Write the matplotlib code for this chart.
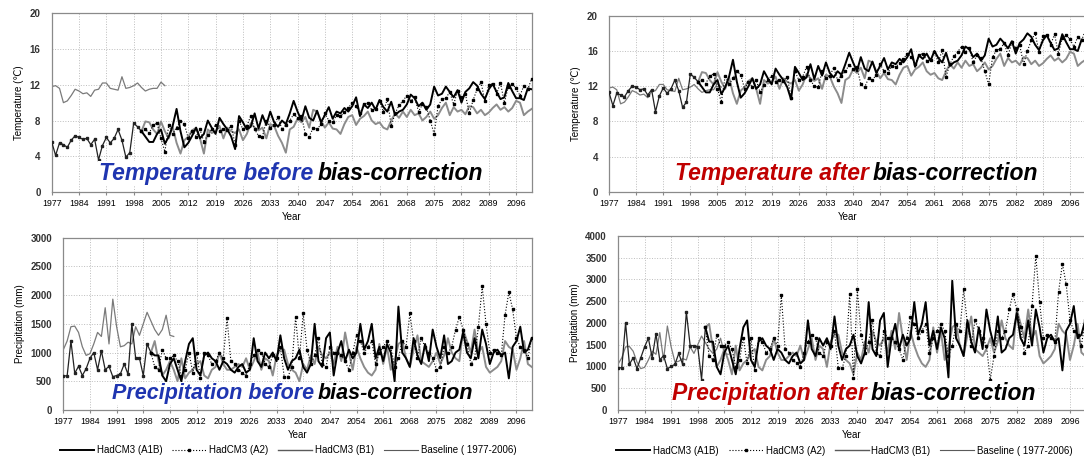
import matplotlib
matplotlib.use('Agg')
import matplotlib.pyplot as plt
from matplotlib.lines import Line2D

plt.rcParams['font.family'] = ['Liberation Sans', 'DejaVu Sans']

years = list(range(1977, 2101))
hist_years = list(range(1977, 2001))
scen_years = list(range(2000, 2101))
base_years = list(range(1977, 2007))
tick_years = list(range(1977, 2100, 7))

# observed baseline 1977-2006 (same in before/after panels)
base_temp = [11.8, 11.9, 11.6, 10.0, 10.2, 10.8, 11.5, 11.3, 11.0, 11.1,
             10.7, 11.4, 11.5, 12.2, 12.2, 11.6, 11.5, 11.4, 12.9, 11.6,
             11.7, 11.9, 12.2, 11.7, 11.3, 11.5, 11.6, 11.6, 12.3, 11.9]
base_prec = [1050, 1200, 1450, 1460, 1350, 1100, 950, 980, 1150, 1350,
             1280, 1780, 1150, 1930, 1450, 1100, 1120, 1180, 1150, 1450,
             1300, 1500, 1700, 1550, 1400, 1300, 1400, 1650, 1300, 1280]

# ---- temperature before bias-correction ----
hist_tb = [5.6, 4.1, 5.5, 5.3, 5.0, 5.8, 6.3, 6.1, 5.9, 6.0,
           5.3, 5.9, 3.6, 5.2, 6.1, 5.5, 6.0, 7.0, 5.8, 3.9,
           4.4, 7.7, 7.3, 6.8]
a1b_tb = [6.2, 5.6, 5.6, 6.5, 7.0, 5.4, 6.2, 7.4, 9.3, 6.8,
          5.0, 5.5, 6.3, 7.2, 6.0, 6.5, 8.0, 7.2, 6.5, 8.3,
          7.6, 7.0, 6.2, 4.8, 8.5, 7.8, 7.0, 7.3, 8.8, 7.1,
          8.6, 7.5, 9.0, 7.8, 7.3, 8.0, 7.6, 8.8, 10.2, 9.0,
          8.0, 9.6, 8.3, 8.0, 9.1, 7.8, 8.6, 9.5, 8.2, 9.0,
          8.8, 9.4, 9.0, 9.6, 10.6, 8.5, 9.8, 9.4, 10.0, 9.2,
          10.3, 9.5, 9.0, 10.1, 8.6, 9.0, 9.2, 9.8, 10.9, 10.5,
          9.6, 10.0, 9.2, 9.8, 11.8, 10.8, 11.0, 11.8, 11.2, 10.6,
          11.4, 10.0, 11.2, 11.6, 12.3, 11.9, 11.0, 10.4, 11.5, 12.1,
          11.2, 10.4, 10.6, 12.2, 11.3, 10.5, 10.5, 10.3, 11.6, 11.5]
a2_tb = [7.0, 6.6, 7.5, 7.7, 6.0, 4.5, 7.5, 6.5, 7.2, 8.0,
         7.6, 6.0, 6.8, 6.2, 7.0, 5.6, 6.4, 7.0, 7.5, 6.8,
         7.0, 6.9, 7.4, 5.3, 8.0, 7.0, 7.4, 8.5, 7.0, 6.3,
         6.2, 8.0, 7.2, 7.5, 8.4, 7.0, 7.5, 8.0, 8.7, 8.3,
         8.5, 6.5, 6.2, 7.2, 7.0, 7.6, 8.8, 8.0, 7.8, 8.6,
         8.5, 8.9, 9.4, 10.0, 9.6, 8.8, 9.8, 10.0, 9.2, 9.3,
         10.2, 9.0, 10.4, 7.4, 8.8, 9.7, 10.2, 10.8, 10.2, 10.6,
         9.0, 9.8, 9.5, 8.0, 6.5, 9.6, 10.4, 10.5, 11.2, 9.8,
         11.3, 10.6, 11.0, 8.8, 10.3, 11.5, 12.3, 10.2, 12.0, 12.1,
         11.0, 12.2, 10.0, 11.8, 12.1, 11.6, 10.8, 11.9, 11.5, 12.7]
b1_tb = [7.9, 7.8, 7.0, 6.5, 7.9, 6.8, 6.0, 7.3, 5.5, 4.3,
         5.8, 6.2, 6.9, 7.2, 6.0, 4.3, 7.0, 6.6, 6.8, 7.4,
         6.0, 7.2, 6.8, 6.6, 7.0, 5.8, 6.5, 7.7, 7.2, 6.9,
         7.2, 6.0, 7.6, 7.4, 6.3, 5.5, 4.4, 7.0, 7.3, 8.2,
         7.8, 8.4, 7.2, 9.2, 9.0, 8.0, 7.2, 7.8, 7.1, 7.0,
         6.5, 7.6, 8.4, 8.6, 7.5, 8.2, 8.5, 9.0, 8.0, 7.6,
         7.8, 7.2, 7.0, 8.0, 8.8, 8.3, 9.0, 8.4, 9.2, 8.6,
         8.8, 8.0, 8.4, 9.0, 8.2, 8.6, 9.4, 10.0, 8.6, 9.5,
         9.0, 9.2, 8.7, 9.6, 9.5, 8.8, 9.2, 8.6, 8.9, 9.4,
         9.8, 9.2, 9.5, 9.0, 9.4, 10.2, 10.0, 8.6, 9.0, 9.3]

# ---- temperature after bias-correction ----
hist_ta = [11.3, 9.8, 11.2, 11.0, 10.8, 11.5, 12.0, 11.9, 11.6, 11.7,
           11.0, 11.6, 9.1, 10.9, 11.8, 11.2, 11.7, 12.7, 11.5, 9.6,
           10.2, 13.4, 13.0, 12.5]
a1b_ta = [11.9, 11.3, 11.3, 12.2, 12.7, 11.1, 11.9, 13.1, 15.0, 12.5,
          10.7, 11.2, 12.0, 12.9, 11.7, 12.2, 13.7, 12.9, 12.2, 14.0,
          13.3, 12.7, 11.9, 10.5, 14.2, 13.5, 12.7, 13.0, 14.5, 12.8,
          14.3, 13.2, 14.7, 13.5, 13.0, 13.7, 13.3, 14.5, 15.8, 14.7,
          13.7, 15.3, 14.0, 13.7, 14.8, 13.5, 14.3, 15.2, 13.9, 14.7,
          14.5, 15.1, 14.7, 15.3, 16.2, 14.2, 15.5, 15.1, 15.7, 14.9,
          16.0, 15.2, 14.7, 15.8, 14.3, 14.7, 14.9, 15.5, 16.5, 16.2,
          15.3, 15.7, 14.9, 15.5, 17.4, 16.5, 16.7, 17.4, 16.9, 16.3,
          17.1, 15.7, 16.9, 17.3, 18.0, 17.6, 16.7, 16.1, 17.2, 17.8,
          16.9, 16.1, 16.3, 17.9, 17.0, 16.2, 16.2, 16.0, 17.3, 17.2]
a2_ta = [12.7, 12.3, 13.2, 13.4, 11.7, 10.2, 13.2, 12.2, 12.9, 13.7,
         13.3, 11.7, 12.5, 11.9, 12.7, 11.3, 12.1, 12.7, 13.2, 12.5,
         12.7, 12.6, 13.1, 10.7, 13.7, 12.7, 13.1, 14.2, 12.7, 12.0,
         11.9, 13.7, 12.9, 13.2, 14.1, 12.7, 13.2, 13.7, 14.4, 14.0,
         14.2, 12.2, 11.9, 12.9, 12.7, 13.3, 14.5, 13.7, 13.5, 14.3,
         14.2, 14.6, 15.1, 15.7, 15.3, 14.5, 15.5, 15.7, 14.9, 15.0,
         15.9, 14.7, 16.1, 13.1, 14.5, 15.4, 15.9, 16.5, 15.9, 16.3,
         14.7, 15.5, 15.2, 13.7, 12.2, 15.3, 16.1, 16.2, 16.9, 15.5,
         17.0, 16.3, 16.7, 14.5, 16.0, 17.2, 18.0, 15.9, 17.7, 17.8,
         16.7, 17.9, 15.7, 17.5, 17.8, 17.3, 16.5, 17.6, 17.2, 18.4]
b1_ta = [13.6, 13.5, 12.7, 12.2, 13.6, 12.5, 11.7, 13.0, 11.2, 10.0,
         11.5, 11.9, 12.6, 12.9, 11.7, 10.0, 12.7, 12.3, 12.5, 13.1,
         11.7, 12.9, 12.5, 12.3, 12.7, 11.5, 12.2, 13.4, 12.9, 12.6,
         12.9, 11.7, 13.3, 13.1, 12.0, 11.2, 10.1, 12.7, 13.0, 13.9,
         13.5, 14.1, 12.9, 14.9, 14.7, 13.7, 12.9, 13.5, 12.8, 12.7,
         12.2, 13.3, 14.1, 14.3, 13.2, 13.9, 14.2, 14.7, 13.7, 13.3,
         13.5, 12.9, 12.7, 13.7, 14.5, 14.0, 14.7, 14.1, 14.9, 14.3,
         14.5, 13.7, 14.1, 14.7, 13.9, 14.3, 15.1, 15.7, 14.3, 15.2,
         14.7, 14.9, 14.4, 15.3, 15.2, 14.5, 14.9, 14.3, 14.6, 15.1,
         15.5, 14.9, 15.2, 14.7, 15.1, 15.9, 15.7, 14.3, 14.7, 15.0]

# ---- precipitation before bias-correction ----
hist_pb = [600, 590, 1200, 640, 760, 600, 720, 900, 1000, 700,
           1030, 700, 760, 580, 600, 630, 800, 620, 1500, 900,
           900, 600, 1150, 1000]
a1b_pb = [950, 950, 600, 500, 800, 900, 700, 500, 850, 1150,
          1250, 700, 600, 950, 1000, 900, 850, 700, 850, 800,
          700, 650, 750, 800, 650, 700, 1250, 850, 750, 1000,
          900, 1000, 850, 1300, 900, 700, 850, 900, 1050, 750,
          650, 800, 1500, 850, 750, 1250, 1350, 600, 1000, 1200,
          850, 1050, 900, 1000, 1500, 1050, 1200, 1500, 900, 1100,
          850, 1150, 1000, 500, 1800, 1000, 900, 750, 1250, 950,
          800, 1150, 850, 1400, 1100, 900, 1300, 800, 850, 1000,
          1050, 1350, 1000, 900, 1250, 900, 1400, 1150, 800, 1000,
          1050, 950, 1000, 550, 1100, 1200, 1450, 1000, 1050, 1250]
a2_pb = [750, 700, 1050, 900, 900, 950, 850, 600, 700, 1000,
         650, 1000, 550, 1000, 950, 800, 850, 1000, 900, 1600,
         850, 800, 700, 650, 600, 800, 950, 1050, 1000, 800,
         750, 950, 900, 1100, 580, 580, 750, 1620, 900, 1680,
         1050, 800, 950, 1250, 800, 750, 1100, 1000, 1000, 950,
         850, 700, 1000, 1300, 1200, 1000, 1100, 1200, 800, 1000,
         1100, 1200, 1100, 750, 900, 1200, 1100, 1680, 1200, 900,
         1250, 1100, 1000, 900, 700, 750, 1100, 1000, 1100, 1400,
         1620, 1400, 1150, 800, 900, 1450, 2150, 1500, 1000, 1050,
         1000, 950, 1650, 2050, 1750, 1250, 1100, 1050, 900, 1250]
b1_pb = [1200, 850, 600, 700, 850, 700, 500, 900, 550, 650,
         700, 800, 850, 600, 550, 700, 750, 1000, 800, 700,
         700, 750, 800, 750, 900, 700, 850, 1000, 700, 900,
         850, 600, 950, 1050, 1050, 800, 700, 650, 500, 800,
         700, 950, 800, 1100, 950, 900, 1000, 800, 1100, 850,
         1350, 1000, 700, 1100, 900, 750, 650, 600, 700, 1150,
         800, 1100, 700, 850, 1150, 1200, 900, 750, 1050, 1300,
         850, 800, 750, 850, 1000, 800, 950, 1250, 1000, 900,
         850, 1400, 1200, 1000, 1400, 1000, 1100, 750, 650, 700,
         750, 850, 1200, 1100, 1050, 700, 900, 1200, 800, 750]

# ---- precipitation after bias-correction ----
hist_pa = [970, 970, 2000, 1050, 1200, 950, 1200, 1450, 1650, 1200,
           1750, 1150, 1250, 950, 1000, 1050, 1300, 1050, 2250, 1480,
           1480, 1450, 700, 1900]
a1b_pa = [1570, 1570, 990, 820, 1320, 1480, 1150, 820, 1400, 1900,
          2060, 1150, 990, 1570, 1650, 1480, 1400, 1150, 1400, 1320,
          1150, 1070, 1240, 1320, 1070, 1150, 2060, 1400, 1240, 1650,
          1480, 1650, 1400, 2150, 1480, 1150, 1400, 1480, 1730, 1240,
          1070, 1320, 2480, 1400, 1240, 2060, 2230, 990, 1650, 1980,
          1400, 1730, 1480, 1650, 2480, 1730, 1980, 2480, 1480, 1820,
          1400, 1900, 1650, 750, 2970, 1650, 1480, 1240, 2060, 1570,
          1320, 1900, 1400, 2310, 1820, 1480, 2150, 1320, 1400, 1650,
          1730, 2230, 1650, 1480, 2060, 1480, 2310, 1900, 1320, 1650,
          1730, 1570, 1650, 910, 1820, 1980, 2390, 1650, 1730, 2060]
a2_pa = [1240, 1150, 1730, 1480, 1480, 1570, 1400, 990, 1150, 1650,
         1070, 1650, 910, 1650, 1570, 1320, 1400, 1650, 1480, 2640,
         1400, 1320, 1150, 1070, 990, 1320, 1570, 1730, 1650, 1320,
         1240, 1570, 1480, 1820, 960, 960, 1240, 2670, 740, 2770,
         1730, 1320, 1570, 2060, 1320, 1240, 1820, 1650, 1650, 1570,
         1400, 1150, 1650, 2140, 1980, 1650, 1820, 1980, 1320, 1650,
         1820, 1980, 1820, 1240, 1480, 1980, 1820, 2770, 1980, 1480,
         2060, 1820, 1650, 1480, 700, 1240, 1820, 1650, 1820, 2310,
         2670, 2310, 1900, 1320, 1480, 2390, 3550, 2480, 1650, 1730,
         1650, 1570, 2720, 3360, 2890, 2060, 1820, 1730, 1480, 2060]
b1_pa = [1980, 1400, 990, 1150, 1400, 1150, 820, 1480, 910, 1070,
         1150, 1320, 1400, 990, 910, 1150, 1240, 1650, 1320, 1150,
         1150, 1240, 1320, 1240, 1480, 1150, 1400, 1650, 1150, 1480,
         1400, 990, 1570, 1730, 1730, 1320, 1150, 1070, 820, 1320,
         1150, 1570, 1320, 1820, 1570, 1480, 1650, 1320, 1820, 1400,
         2230, 1650, 1150, 1820, 1480, 1240, 1070, 990, 1150, 1900,
         1320, 1820, 1150, 1400, 1900, 1980, 1480, 1240, 1730, 2150,
         1400, 1320, 1240, 1400, 1650, 1320, 1570, 2060, 1650, 1480,
         1400, 2310, 1980, 1650, 2310, 1650, 1820, 1240, 1070, 1150,
         1240, 1400, 1980, 1820, 1730, 1150, 1480, 1980, 1320, 1240]

LEGEND_LABELS = ['HadCM3 (A1B)', 'HadCM3 (A2)', 'HadCM3 (B1)', 'Baseline ( 1977-2006)']
BLUE = '#1f35b0'
RED = '#c00000'


def draw_panel(ax, hist, a1b, a2, b1, base, ymax, ystep, ylabel,
               word1, word2, color1, split_x, text_y, text_size=16.5,
               legend_x=None):
    # scenario runs start from the last year of the shared 20C3M run
    last = hist[-1:]
    ax.plot(scen_years, last + b1, color='#8c8c8c', lw=1.4, zorder=2)
    ax.plot(base_years, base, color='#7a7a7a', lw=0.9, zorder=2)
    ax.plot(hist_years, hist, color='#222222', lw=0.9,
            marker='s', ms=2.0, zorder=3)
    ax.plot(scen_years, last + a2, color='black', lw=0.8, ls=':',
            marker='s', ms=2.0, zorder=3)
    ax.plot(scen_years, last + a1b, color='black', lw=1.4, zorder=4)

    ax.set_xlim(1977, 2100)
    ax.set_ylim(0, ymax)
    ax.set_xticks(tick_years)
    ax.set_xticklabels([str(y) for y in tick_years], fontsize=6.3)
    ax.set_yticks(list(range(0, ymax + 1, ystep)))
    ax.tick_params(axis='y', labelsize=7, length=0, pad=8)
    ax.tick_params(axis='x', length=2, pad=3, color='#888888')
    for lab in ax.get_yticklabels():
        lab.set_fontweight('bold')
        lab.set_color('#333333')
    ax.grid(True, ls=':', lw=0.7, color='#bdbdbd')
    for sp in ax.spines.values():
        sp.set_color('#8a8a8a')
        sp.set_linewidth(0.9)
    ax.set_ylabel(ylabel, fontsize=7)
    ax.set_xlabel('Year', fontsize=7, labelpad=3)

    box = dict(facecolor='white', edgecolor='none', pad=0.5)
    ax.text(split_x, text_y, word1, transform=ax.transAxes, ha='right',
            va='center', fontsize=text_size, fontweight='bold', style='italic',
            color=color1, bbox=box, zorder=6)
    ax.text(split_x + 0.008, text_y, word2, transform=ax.transAxes, ha='left',
            va='center', fontsize=text_size, fontweight='bold', style='italic',
            color='black', bbox=box, zorder=6)

    if legend_x is not None:
        handles = [Line2D([], [], color='black', lw=1.4),
                   Line2D([], [], color='black', lw=0.8, ls=':', marker='s', ms=2.0),
                   Line2D([], [], color='#5a5a5a', lw=1.0),
                   Line2D([], [], color='#5a5a5a', lw=0.8)]
        ax.legend(handles, LEGEND_LABELS, loc='upper center',
                  bbox_to_anchor=(legend_x, -0.155), ncol=4, frameon=False,
                  fontsize=7, handlelength=3.5, handletextpad=0.3,
                  columnspacing=1.0)


def main():
    for s in [a1b_tb, a2_tb, b1_tb, a1b_ta, a2_ta, b1_ta,
              a1b_pb, a2_pb, b1_pb, a1b_pa, a2_pa, b1_pa]:
        assert len(s) == 100, len(s)

    fig = plt.figure(figsize=(10.84, 4.59), dpi=100)
    ax_tl = fig.add_axes([0.0477, 0.5817, 0.4428, 0.3893])
    ax_tr = fig.add_axes([0.5618, 0.5817, 0.4396, 0.3841])
    ax_bl = fig.add_axes([0.0584, 0.1068, 0.4321, 0.3754])
    ax_br = fig.add_axes([0.5701, 0.1068, 0.4310, 0.3791])

    draw_panel(ax_tl, hist_tb, a1b_tb, a2_tb, b1_tb, base_temp, 20, 4,
               'Temperature (\u2103)', 'Temperature before', 'bias-correction',
               BLUE, 0.545, 0.105)
    draw_panel(ax_tr, hist_ta, a1b_ta, a2_ta, b1_ta, base_temp, 20, 4,
               'Temperature (\u2103)', 'Temperature after', 'bias-correction',
               RED, 0.545, 0.105)
    draw_panel(ax_bl, hist_pb, a1b_pb, a2_pb, b1_pb, base_prec, 3000, 500,
               'Precipitation (mm)', 'Precipitation before', 'bias-correction',
               BLUE, 0.535, 0.095, text_size=15.5, legend_x=0.48)
    draw_panel(ax_br, hist_pa, a1b_pa, a2_pa, b1_pa, base_prec, 4000, 500,
               'Precipitation (mm)', 'Precipitation after', 'bias-correction',
               RED, 0.533, 0.095, legend_x=0.485)

    fig.savefig('out.png', dpi=100)


if __name__ == '__main__':
    main()
